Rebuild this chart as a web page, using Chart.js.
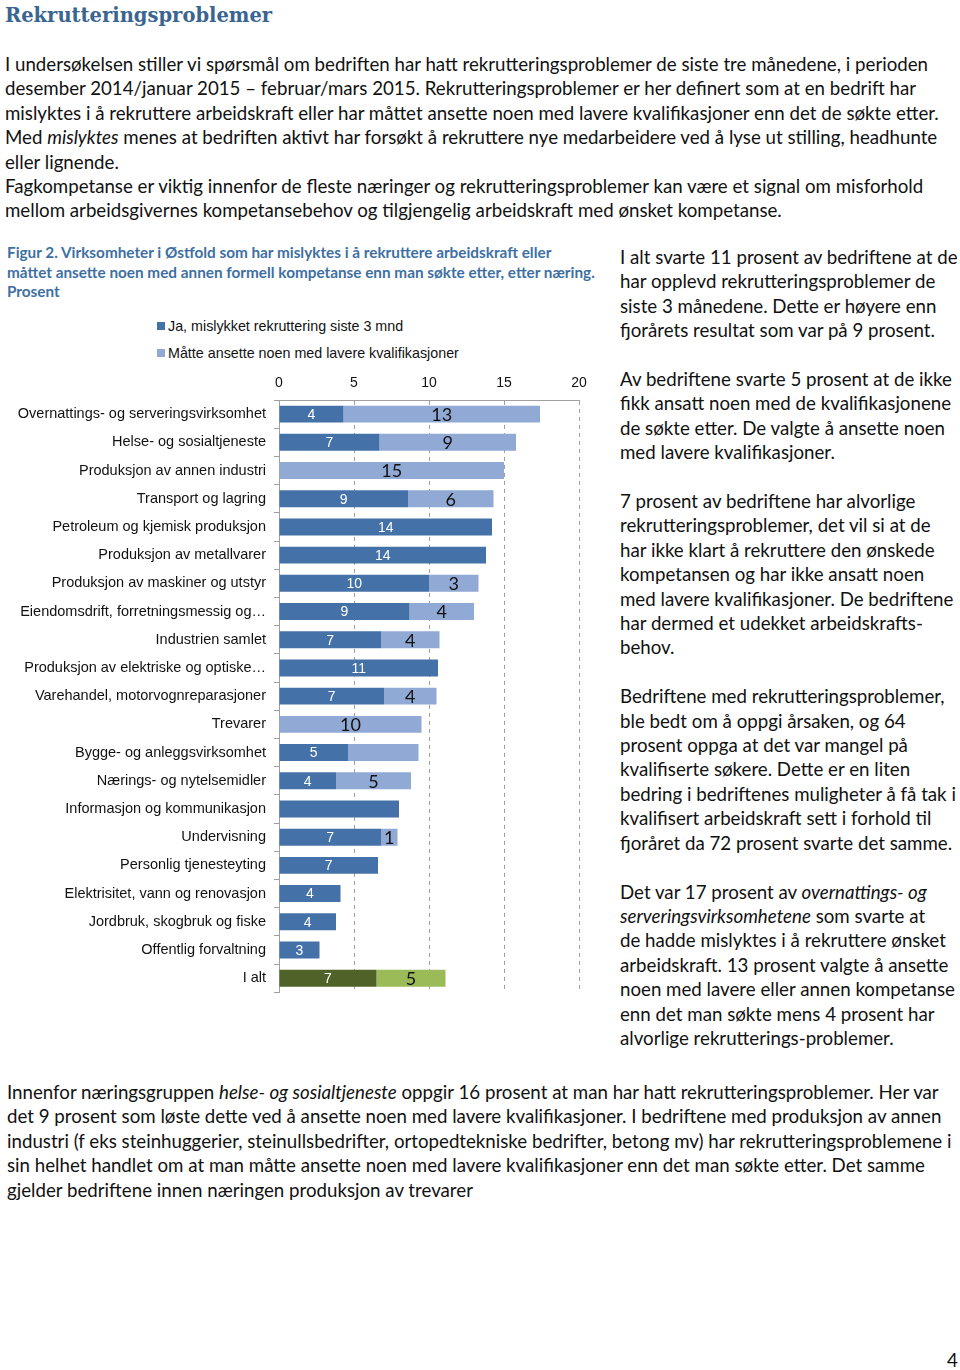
<!DOCTYPE html>
<html>
<head>
<meta charset="utf-8">
<script src="https://cdn.jsdelivr.net/npm/chart.js@4/dist/chart.umd.min.js"></script>
<style>
  body { margin: 0; width: 960px; height: 1370px; background: #fff; position: relative; font-family: Lato, sans-serif; color: #111; }
  .abs { position: absolute; white-space: nowrap; }
  .title { left: 5px; top: 4px; font-family: "DejaVu Serif", serif; font-weight: bold; font-size: 19.5px; color: #3a6591; }
  .txt { font-size: 18.7px; line-height: 24.4px; }
  .txt p { margin: 0 0 24.4px 0; }
  .caption { left: 7px; top: 243px; font-size: 15.3px; line-height: 19.5px; font-weight: bold; color: #3e6fa3; }
  .legend { left: 157px; top: 316px; font-family: "Liberation Sans", Arial, sans-serif; font-size: 14.3px; color: #111; }
  .legend div { height: 27px; line-height: 20px; }
  .legend span.sw { display: inline-block; width: 8px; height: 8px; margin-right: 3px; vertical-align: 1px; }
  #chartBox { position: absolute; left: 0; top: 366px; width: 610px; height: 643px; }
</style>
</head>
<body>
<div class="abs title">Rekrutteringsproblemer</div>

<div class="abs txt" style="left:5px; top:52px;">
I undersøkelsen stiller vi spørsmål om bedriften har hatt rekrutteringsproblemer de siste tre månedene, i perioden<br>
desember 2014/januar 2015 – februar/mars 2015. Rekrutteringsproblemer er her definert som at en bedrift har<br>
mislyktes i å rekruttere arbeidskraft eller har måttet ansette noen med lavere kvalifikasjoner enn det de søkte etter.<br>
Med <i>mislyktes</i> menes at bedriften aktivt har forsøkt å rekruttere nye medarbeidere ved å lyse ut stilling, headhunte<br>
eller lignende.<br>
Fagkompetanse er viktig innenfor de fleste næringer og rekrutteringsproblemer kan være et signal om misforhold<br>
mellom arbeidsgivernes kompetansebehov og tilgjengelig arbeidskraft med ønsket kompetanse.
</div>

<div class="abs caption">
Figur 2. Virksomheter i Østfold som har mislyktes i å rekruttere arbeidskraft eller<br>
måttet ansette noen med annen formell kompetanse enn man søkte etter, etter næring.<br>
Prosent
</div>

<div class="abs legend" id="legend"></div>
<div id="chartBox"><canvas id="chart"></canvas></div>

<div class="abs txt" style="left:620px; top:245px;">
<p>I alt svarte 11 prosent av bedriftene at de<br>har opplevd rekrutteringsproblemer de<br>siste 3 månedene. Dette er høyere enn<br>fjorårets resultat som var på 9 prosent.</p>
<p>Av bedriftene svarte 5 prosent at de ikke<br>fikk ansatt noen med de kvalifikasjonene<br>de søkte etter. De valgte å ansette noen<br>med lavere kvalifikasjoner.</p>
<p>7 prosent av bedriftene har alvorlige<br>rekrutteringsproblemer, det vil si at de<br>har ikke klart å rekruttere den ønskede<br>kompetansen og har ikke ansatt noen<br>med lavere kvalifikasjoner. De bedriftene<br>har dermed et udekket arbeidskrafts-<br>behov.</p>
<p>Bedriftene med rekrutteringsproblemer,<br>ble bedt om å oppgi årsaken, og 64<br>prosent oppga at det var mangel på<br>kvalifiserte søkere. Dette er en liten<br>bedring i bedriftenes muligheter å få tak i<br>kvalifisert arbeidskraft sett i forhold til<br>fjoråret da 72 prosent svarte det samme.</p>
<p>Det var 17 prosent av <i>overnattings- og<br>serveringsvirksomhetene</i> som svarte at<br>de hadde mislyktes i å rekruttere ønsket<br>arbeidskraft. 13 prosent valgte å ansette<br>noen med lavere eller annen kompetanse<br>enn det man søkte mens 4 prosent har<br>alvorlige rekrutterings-problemer.</p>
</div>

<div class="abs txt" style="left:7px; top:1080px;">
Innenfor næringsgruppen <i>helse- og sosialtjeneste</i> oppgir 16 prosent at man har hatt rekrutteringsproblemer. Her var<br>
det 9 prosent som løste dette ved å ansette noen med lavere kvalifikasjoner. I bedriftene med produksjon av annen<br>
industri (f eks steinhuggerier, steinullsbedrifter, ortopedtekniske bedrifter, betong mv) har rekrutteringsproblemene i<br>
sin helhet handlet om at man måtte ansette noen med lavere kvalifikasjoner enn det man søkte etter. Det samme<br>
gjelder bedriftene innen næringen produksjon av trevarer
</div>

<div class="abs txt" style="left:947px; top:1348px;">4</div>

<script>
// industries, top to bottom as in the figure
const categories = [
  'Overnattings- og serveringsvirksomhet',
  'Helse- og sosialtjeneste',
  'Produksjon av annen industri',
  'Transport og lagring',
  'Petroleum og kjemisk produksjon',
  'Produksjon av metallvarer',
  'Produksjon av maskiner og utstyr',
  'Eiendomsdrift, forretningsmessig og…',
  'Industrien samlet',
  'Produksjon av elektriske og optiske…',
  'Varehandel, motorvognreparasjoner',
  'Trevarer',
  'Bygge- og anleggsvirksomhet',
  'Nærings- og nytelsemidler',
  'Informasjon og kommunikasjon',
  'Undervisning',
  'Personlig tjenesteyting',
  'Elektrisitet, vann og renovasjon',
  'Jordbruk, skogbruk og fiske',
  'Offentlig forvaltning',
  'I alt'
];

// Ja, mislykket rekruttering siste 3 mnd (percent)
const failedRecruit = [4.3, 6.7, null, 8.6, 14.2, 13.8, 10.0, 8.7, 6.8, 10.6, 7.0, null, 4.6, 3.8, 8.0, 6.8, 6.6, 4.1, 3.8, 2.7, 6.5];
// Måtte ansette noen med lavere kvalifikasjoner (percent)
const lowerQual = [13.1, 9.1, 15.0, 5.7, null, null, 3.3, 4.3, 3.9, null, 3.5, 9.5, 4.7, 5.0, null, 1.1, null, null, null, null, 4.6];

// segments that carry no value label in the figure
const noLabelFailed = [14];
const noLabelLower = [12];

const xTicks = [0, 5, 10, 15, 20];

const seriesNames = ['Ja, mislykket rekruttering siste 3 mnd', 'Måtte ansette noen med lavere kvalifikasjoner'];

const darkBlue = '#4472a8', lightBlue = '#91a9d5';
const darkGreen = '#4f6228', lightGreen = '#9bbb59';
const last = categories.length - 1;

function colorsFor(base, total) {
  return categories.map((c, i) => i === last ? total : base);
}

// legend (vertical, like the figure)
const legendEl = document.getElementById('legend');
[darkBlue, lightBlue].forEach((col, i) => {
  const row = document.createElement('div');
  row.innerHTML = '<span class="sw" style="background:' + col + '"></span>' + seriesNames[i];
  legendEl.appendChild(row);
});

const valueLabels = {
  id: 'valueLabels',
  afterDatasetsDraw(chart) {
    const ctx = chart.ctx;
    ctx.save();
    ctx.textAlign = 'center';
    ctx.textBaseline = 'middle';
    chart.data.datasets.forEach((ds, di) => {
      const skip = di === 0 ? noLabelFailed : noLabelLower;
      chart.getDatasetMeta(di).data.forEach((bar, i) => {
        const v = ds.data[i];
        if (v == null || skip.includes(i)) return;
        const cx = (bar.x + bar.base) / 2;
        if (di === 0) {
          ctx.fillStyle = '#fff';
          ctx.font = '14px "Liberation Sans", Arial, sans-serif';
        } else {
          ctx.fillStyle = '#111';
          ctx.font = '18px Lato, sans-serif';
        }
        ctx.fillText(String(Math.round(v)), cx, bar.y + 1);
      });
    });
    ctx.restore();
  }
};

new Chart(document.getElementById('chart'), {
  type: 'bar',
  data: {
    labels: categories,
    datasets: [
      { label: seriesNames[0], data: failedRecruit, backgroundColor: colorsFor(darkBlue, darkGreen),
        categoryPercentage: 0.6, barPercentage: 1 },
      { label: seriesNames[1], data: lowerQual, backgroundColor: colorsFor(lightBlue, lightGreen),
        categoryPercentage: 0.6, barPercentage: 1 }
    ]
  },
  options: {
    indexAxis: 'y',
    responsive: true,
    maintainAspectRatio: false,
    animation: false,
    layout: { padding: { top: 0, right: 31, bottom: 13, left: 0 } },
    plugins: { legend: { display: false }, tooltip: { enabled: false } },
    scales: {
      x: {
        position: 'top',
        stacked: true,
        min: 0, max: 20,
        afterBuildTicks: s => { s.ticks = xTicks.map(v => ({ value: v })); },
        afterFit: s => { s.height = 34; },
        ticks: { color: '#111', padding: 8, font: { family: '"Liberation Sans", Arial, sans-serif', size: 14 } },
        grid: { color: '#a0a0a0', drawTicks: false, lineWidth: 1 },
        border: { color: '#a0a0a0', dash: [4, 4] }
      },
      y: {
        stacked: true,
        afterFit: s => { s.width = 279; },
        ticks: { color: '#111', padding: 8, autoSkip: false, font: { family: '"Liberation Sans", Arial, sans-serif', size: 14.5 } },
        grid: { drawOnChartArea: false, tickLength: 5, color: '#a0a0a0' },
        border: { color: '#a0a0a0' }
      }
    }
  },
  plugins: [valueLabels]
});
</script>
</body>
</html>
